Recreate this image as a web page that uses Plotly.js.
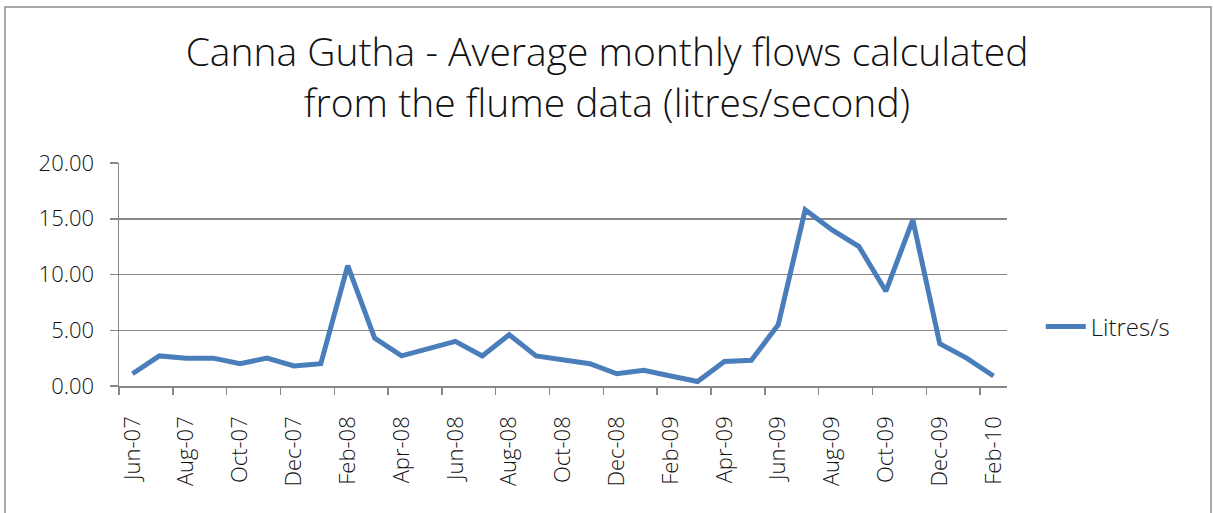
<!DOCTYPE html>
<html>
<head>
<meta charset="utf-8">
<script src="https://cdn.plot.ly/plotly-3.0.1.min.js"></script>
<style>
  html, body { margin: 0; padding: 0; background: #fff; }
  #chart { width: 1213px; height: 513px; }
</style>
</head>
<body>
<div id="chart"></div>
<script>
// Month labels (one per data point)
const months = ["Jun-07","Jul-07","Aug-07","Sep-07","Oct-07","Nov-07","Dec-07","Jan-08",
  "Feb-08","Mar-08","Apr-08","May-08","Jun-08","Jul-08","Aug-08","Sep-08","Oct-08",
  "Nov-08","Dec-08","Jan-09","Feb-09","Mar-09","Apr-09","May-09","Jun-09","Jul-09",
  "Aug-09","Sep-09","Oct-09","Nov-09","Dec-09","Jan-10","Feb-10"];
// Average monthly flow (litres/second)
const litresPerSecond = [1.1, 2.7, 2.5, 2.5, 2.0, 2.5, 1.8, 2.0,
  10.8, 4.3, 2.7, 3.4, 4.0, 2.7, 4.6, 2.7, 2.4,
  2.0, 1.1, 1.4, 0.9, 0.4, 2.2, 2.3, 5.5, 15.8,
  14.0, 12.5, 8.5, 14.9, 3.8, 2.5, 0.9];
const seriesName = "Litres/s";
const chartTitle = "Canna Gutha - Average monthly flows calculated<br>from the flume data (litres/second)";

const xIdx = months.map((m, i) => i);
const labelIdx = xIdx.filter(i => i % 2 === 0);
const labelText = labelIdx.map(i => months[i]);

const FONT = "'Open Sans', 'Lato', sans-serif";
const GRID = "#878787";
const TXT = "#111111";

const trace = {
  x: xIdx,
  y: litresPerSecond,
  type: "scatter",
  mode: "lines",
  name: seriesName,
  line: { color: "#4a7ebb", width: 5, shape: "linear" },
  hoverinfo: "skip"
};

const layout = {
  width: 1213,
  height: 513,
  paper_bgcolor: "#ffffff",
  plot_bgcolor: "#ffffff",
  margin: { l: 119, r: 206, t: 163, b: 127, pad: 0 },
  font: { family: FONT, color: TXT, weight: 300 },
  title: {
    text: chartTitle,
    x: 607 / 1213,
    xref: "container",
    xanchor: "center",
    y: 1 - 66 / 513,
    yref: "container",
    yanchor: "top",
    font: { family: FONT, size: 39, color: TXT, weight: 300 }
  },
  showlegend: true,
  legend: {
    x: 1.038,
    xanchor: "left",
    y: 0.265,
    yanchor: "middle",
    itemwidth: 40,
    font: { family: FONT, size: 24, color: TXT, weight: 300 },
    bgcolor: "rgba(0,0,0,0)",
    borderwidth: 0
  },
  xaxis: {
    type: "linear",
    range: [-0.5, 32.5],
    tickmode: "array",
    tickvals: labelIdx,
    ticktext: labelText,
    tickangle: -90,
    ticks: "",
    ticklabelstandoff: 20,
    tickfont: { family: FONT, size: 22, color: TXT, weight: 300 },
    showgrid: false,
    zeroline: false,
    showline: true,
    linecolor: GRID,
    linewidth: 1.5,
    minor: {
      tickmode: "linear",
      tick0: -0.5,
      dtick: 2,
      ticks: "outside",
      ticklen: 7,
      tickwidth: 1.5,
      tickcolor: GRID,
      showgrid: false
    },
    fixedrange: true
  },
  yaxis: {
    range: [0, 20],
    tickmode: "linear",
    tick0: 0,
    dtick: 5,
    tickformat: ".2f",
    ticks: "outside",
    ticklen: 8,
    tickwidth: 1.5,
    tickcolor: GRID,
    ticklabelstandoff: 11,
    tickfont: { family: FONT, size: 22, color: TXT, weight: 300 },
    showgrid: true,
    gridcolor: GRID,
    gridwidth: 1.5,
    zeroline: false,
    showline: true,
    linecolor: GRID,
    linewidth: 1.5,
    fixedrange: true
  },
  shapes: [{
    type: "rect",
    xref: "paper", yref: "paper",
    x0: (5 - 119) / 888, x1: (1211 - 119) / 888,
    y0: (386 - 530) / 223, y1: (386 - 7) / 223,
    line: { color: "#8c8c8c", width: 1.5 },
    fillcolor: "rgba(0,0,0,0)",
    layer: "below"
  }]
};

Plotly.newPlot("chart", [trace], layout, { staticPlot: true, displayModeBar: false });
</script>
</body>
</html>
